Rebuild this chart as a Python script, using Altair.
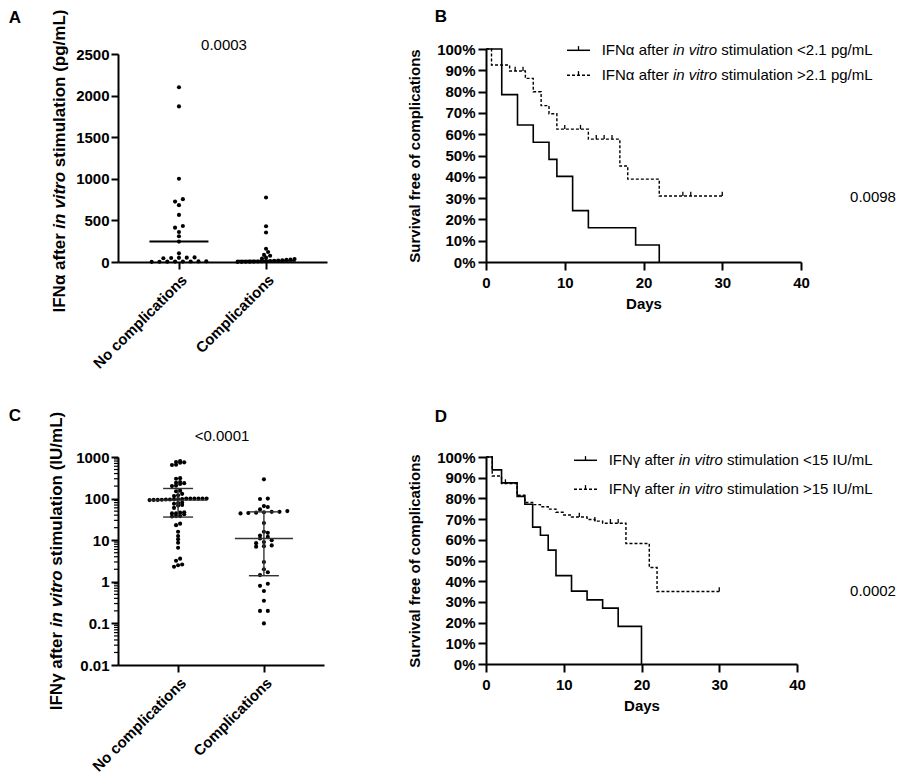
import math
import altair as alt
import pandas as pd

FONT = "Liberation Sans"

# ---------------- data ----------------
groups = ["No complications", "Complications"]

# Panel A: IFN-alpha (pg/mL)
ifna_no = [2100, 1870, 1000, 755, 726, 683, 566, 433, 413, 361, 309, 245, 104,
           55, 52, 50, 48, 45, 8, 7, 6, 5, 5, 4, 3, 2]
ifna_comp = [775, 430, 355, 160, 120, 85, 75, 52, 40, 35, 30, 25, 20, 18, 15,
             12, 10, 8, 6, 5, 4, 3, 2, 1]
ifna_median = [245, 15]
pval_a = "0.0003"

# Panel C: IFN-gamma (IU/mL)
ifng_no = [802, 760, 745, 731, 643, 650,
           310, 300, 250, 240, 235, 225, 205, 200,
           155, 150, 130, 120, 115,
           100, 100, 100, 100, 100, 100, 98, 97, 96, 95, 95, 94, 93, 93, 92,
           80, 78, 75, 70, 68, 60,
           47, 46, 44, 44, 42, 38, 38, 37,
           25, 23, 16, 12.6, 10.5, 8.7, 6.6,
           3.6, 3.2, 2.6, 2.5, 2.3]
ifng_comp = [290, 100, 98, 66, 63, 55, 50, 48, 48, 47, 46, 45, 44, 26, 16, 15,
             13, 12, 11, 10, 9, 8.5, 7.5, 7.2, 7, 3.0, 2.0, 1.7, 1.45, 0.9, 0.8,
             0.6, 0.35, 0.2, 0.2, 0.1]
ifng_median = [92, 11]
ifng_q1 = [36, 1.4]
ifng_q3 = [175, 48]
pval_c = "<0.0001"

# Panel B: survival, IFN-alpha
b_low_day = [0, 2, 4, 6, 8, 9, 11, 13, 19, 22]
b_low_surv = [100, 78.6, 64.3, 56.25, 48.2, 40.2, 24.1, 16.1, 8.0, 0]
b_high_day = [0, 0.7, 3, 5, 6, 7, 8, 9, 13, 17, 18, 22, 30]
b_high_surv = [100, 92.5, 89.7, 86.2, 79.9, 73.4, 69.6, 62.4, 57.7, 45.1, 38.9, 31.0, 31.0]
b_cens_day = [3.7, 4.7, 10, 12, 14, 15, 16, 25, 26, 30]
b_cens_surv = [89.7, 89.7, 62.4, 62.4, 57.7, 57.7, 57.7, 31.0, 31.0, 31.0]
b_leg = ["stimulation <2.1 pg/mL", "stimulation >2.1 pg/mL"]
pval_b = "0.0098"

# Panel D: survival, IFN-gamma
d_low_day = [0, 0.8, 2, 4, 5, 6, 7, 8, 9, 11, 13, 15, 17, 20]
d_low_surv = [100, 93.8, 87.5, 81.0, 77.2, 66.1, 62.2, 55.0, 42.7, 35.2, 31.0, 27.0, 18.2, 0]
d_high_day = [0, 0.8, 2, 4, 5, 6, 7, 8, 9, 10, 11, 13, 14, 15, 18, 21, 22, 30]
d_high_surv = [100, 90.8, 87.2, 81.5, 78.0, 77.0, 76.0, 74.8, 73.3, 72.0, 71.0, 69.8, 69.0,
               68.0, 58.2, 46.6, 35.0, 35.0]
d_cens_day = [2.5, 12, 14, 16, 17, 30]
d_cens_surv = [87.2, 71.0, 69.0, 68.0, 68.0, 35.0]
d_leg = ["stimulation <15 IU/mL", "stimulation >15 IU/mL"]
pval_d = "0.0002"

# ---------------- text width helpers (Arial / Liberation Sans metrics) ----------------
REG = {' ': 278, '%': 889, '(': 333, ')': 333, '.': 278, '/': 278, '<': 584, '>': 584,
       'A': 667, 'B': 667, 'C': 722, 'D': 722, 'E': 667, 'F': 611, 'G': 778, 'H': 722,
       'I': 278, 'J': 500, 'K': 667, 'L': 556, 'M': 833, 'N': 722, 'O': 778, 'P': 667,
       'R': 722, 'S': 667, 'T': 611, 'U': 722, 'V': 667,
       'a': 556, 'b': 556, 'c': 500, 'd': 556, 'e': 556, 'f': 278, 'g': 556, 'h': 556,
       'i': 222, 'j': 222, 'k': 500, 'l': 222, 'm': 833, 'n': 556, 'o': 556, 'p': 556,
       'q': 556, 'r': 333, 's': 500, 't': 278, 'u': 556, 'v': 500, 'w': 722, 'x': 500,
       'y': 500, 'z': 500, 'α': 578, 'γ': 500}
BOLD = {' ': 278, '%': 889, '(': 333, ')': 333, '.': 278, '/': 278, '<': 584, '>': 584,
        'A': 722, 'B': 722, 'C': 722, 'D': 722, 'E': 667, 'F': 611, 'G': 778, 'H': 722,
        'I': 278, 'J': 556, 'K': 722, 'L': 611, 'M': 833, 'N': 722, 'O': 778, 'P': 667,
        'R': 722, 'S': 667, 'T': 611, 'U': 722, 'V': 667,
        'a': 556, 'b': 611, 'c': 556, 'd': 611, 'e': 556, 'f': 333, 'g': 611, 'h': 611,
        'i': 278, 'j': 278, 'k': 556, 'l': 278, 'm': 889, 'n': 611, 'o': 611, 'p': 611,
        'q': 611, 'r': 389, 's': 556, 't': 333, 'u': 611, 'v': 556, 'w': 778, 'x': 556,
        'y': 556, 'z': 500, 'α': 600, 'γ': 556}


def tw(s, size, bold):
    tab = BOLD if bold else REG
    return sum(tab.get(c, 556) for c in s) * size / 1000.0


def text1(s, x, y, size=15, weight="normal", align="center", baseline="middle", angle=0, style="normal"):
    return alt.Chart(pd.DataFrame({"t": [s]})).mark_text(
        align=align, baseline=baseline, fontSize=size, fontWeight=weight, fontStyle=style,
        angle=angle, color="black", font=FONT
    ).encode(x=alt.value(x), y=alt.value(y), text="t:N")


def seg_texts(parts, x0, y0, size, bold, vertical=False, center=None):
    """parts: list of (text, italic). Horizontal from (x0,y0) or vertical centred at center."""
    widths = [tw(s, size, bold) for s, _ in parts]
    sp = tw(" ", size, bold)
    total = sum(widths) + sp * (len(parts) - 1)
    layers = []
    pos = 0.0
    for (s, it), w in zip(parts, widths):
        if vertical:
            xx, yy, ang = x0, center + total / 2 - pos, 270
        else:
            xx, yy, ang = x0 + pos, y0, 0
        layers.append(text1(s, xx, yy, size=size, weight="bold" if bold else "normal",
                            align="left", baseline="middle", angle=ang,
                            style="italic" if it else "normal"))
        pos += w + sp
    return layers


def swarm(vals, to_px, h=3.0, max_sp=7.8, width=57.0):
    idx = sorted(range(len(vals)), key=lambda i: to_px(vals[i]))
    rows = []
    for i in idx:
        p = to_px(vals[i])
        if rows and p - rows[-1][0] <= h:
            rows[-1][1].append(i)
        else:
            rows.append([p, [i]])
    nmax = max(len(r[1]) for r in rows)
    sp = min(max_sp, width / (nmax - 1)) if nmax > 1 else max_sp
    off = [0.0] * len(vals)
    for _, mem in rows:
        n = len(mem)
        for k, i in enumerate(mem):
            off[i] = (k - (n - 1) / 2.0) * sp
    return off


def swarm_df(vals_list, to_px, ppu):
    rec = []
    for g, vals in enumerate(vals_list, start=1):
        offs = swarm(vals, to_px)
        for v, o in zip(vals, offs):
            rec.append({"x": g + o / ppu, "y": v})
    return pd.DataFrame(rec)


label_expr = "datum.value == 1 ? '%s' : '%s'" % (groups[0], groups[1])
cat_axis = alt.Axis(values=[1, 2], labelExpr=label_expr, labelAngle=-45, tickSize=7,
                    labelPadding=3, title=None, labelOverlap=False, labelFlush=False)

# ---------------- Panel A ----------------
WA, HA = 209, 213
ppuA = WA / 2.4
xsA = alt.Scale(domain=[0.3, 2.7], nice=False, zero=False)
ysA = alt.Scale(domain=[0, 2500], range=[HA, 5], nice=False)
yaxA = alt.Axis(values=[0, 500, 1000, 1500, 2000, 2500], format="d", tickSize=7,
                labelPadding=2, title=None, labelOverlap=False)

dfA = swarm_df([ifna_no, ifna_comp], lambda v: v * 208 / 2500.0, ppuA)
ptsA = alt.Chart(dfA).mark_circle(size=17, color="black", opacity=1).encode(
    x=alt.X("x:Q", scale=xsA, axis=cat_axis), y=alt.Y("y:Q", scale=ysA, axis=yaxA))
hwA = 29.5 / ppuA
medA = pd.DataFrame({"x1": [g - hwA for g in (1, 2)], "x2": [g + hwA for g in (1, 2)],
                     "y": ifna_median})
medA_l = alt.Chart(medA).mark_rule(color="black", strokeWidth=2).encode(
    x=alt.X("x1:Q", scale=xsA, axis=cat_axis), x2="x2:Q",
    y=alt.Y("y:Q", scale=ysA, axis=yaxA))
titleA = seg_texts([("IFNα after", False), ("in vitro", True), ("stimulation (pg/mL)", False)],
                   -58, 0, 17, True, vertical=True, center=112)
panelA = alt.layer(ptsA, medA_l, text1(pval_a, 106, -3.7),
                   text1("A", -103, -31, size=17, weight="bold"),
                   *titleA).properties(width=WA, height=HA)

# ---------------- Panel C ----------------
WC, HC = 206, 208
ppuC = WC / 2.4
xsC = alt.Scale(domain=[0.3, 2.7], nice=False, zero=False)
ysC = alt.Scale(type="log", domain=[0.01, 1000], nice=False)
yaxC = alt.Axis(values=[0.01, 0.1, 1, 10, 100, 1000], format="~g", tickSize=7,
                labelPadding=2, title=None, labelOverlap=False)
dfC = swarm_df([ifng_no, ifng_comp], lambda v: (math.log10(v) + 2) * 41.6, ppuC)
ptsC = alt.Chart(dfC).mark_circle(size=17, color="black", opacity=1).encode(
    x=alt.X("x:Q", scale=xsC, axis=cat_axis), y=alt.Y("y:Q", scale=ysC, axis=yaxC))
hwC, cwC = 29 / ppuC, 15 / ppuC
medC = pd.DataFrame({"x1": [g - hwC for g in (1, 2)], "x2": [g + hwC for g in (1, 2)],
                     "y": ifng_median})
capC = pd.DataFrame({"x1": [g - cwC for g in (1, 2, 1, 2)], "x2": [g + cwC for g in (1, 2, 1, 2)],
                     "y": ifng_q1 + ifng_q3})
iqrC = pd.DataFrame({"x": [1, 2], "lo": ifng_q1, "hi": ifng_q3})
bar_col = "#333333"
medC_l = alt.Chart(medC).mark_rule(color=bar_col, strokeWidth=1.4).encode(
    x=alt.X("x1:Q", scale=xsC, axis=cat_axis), x2="x2:Q", y=alt.Y("y:Q", scale=ysC, axis=yaxC))
capC_l = alt.Chart(capC).mark_rule(color=bar_col, strokeWidth=1.4).encode(
    x=alt.X("x1:Q", scale=xsC, axis=cat_axis), x2="x2:Q", y=alt.Y("y:Q", scale=ysC, axis=yaxC))
iqrC_l = alt.Chart(iqrC).mark_rule(color=bar_col, strokeWidth=1.4).encode(
    x=alt.X("x:Q", scale=xsC, axis=cat_axis), y=alt.Y("lo:Q", scale=ysC, axis=yaxC), y2="hi:Q")
minor = pd.DataFrame({"v": [k * 10.0 ** e for e in range(-2, 3) for k in range(2, 10)]})
minorC = alt.Chart(minor).mark_rule(color="black", strokeWidth=1.2).encode(
    x=alt.value(-4), x2=alt.value(0), y=alt.Y("v:Q", scale=ysC, axis=yaxC))
titleC = seg_texts([("IFNγ after", False), ("in vitro", True), ("stimulation (IU/mL)", False)],
                   -61, 0, 17, True, vertical=True, center=HC / 2)
panelC = alt.layer(minorC, ptsC, medC_l, capC_l, iqrC_l, text1(pval_c, 104, -20.7),
                   text1("C", -103, -40.7, size=17, weight="bold"),
                   *titleC).properties(width=WC, height=HC)


# ---------------- KM panels ----------------
def km_panel(W, H, low_d, low_s, high_d, high_s, c_d, c_s, prefix, leg, pval, pv_y,
             letter, letter_y, leg_x, leg_y):
    xs = alt.Scale(domain=[0, 40], nice=False)
    ys = alt.Scale(domain=[0, 100], nice=False)
    xax = alt.Axis(values=[0, 10, 20, 30, 40], tickSize=8, labelPadding=5, title="Days",
                   titlePadding=6, labelFlush=False, labelOverlap=False)
    yax = alt.Axis(values=list(range(0, 101, 10)), labelExpr="datum.value + '%'", tickSize=8,
                   labelPadding=3, title="Survival free of complications", titlePadding=14,
                   labelOverlap=False)
    lo = alt.Chart(pd.DataFrame({"d": low_d, "s": low_s})).mark_line(
        interpolate="step-after", color="black", strokeWidth=1.6).encode(
        x=alt.X("d:Q", scale=xs, axis=xax), y=alt.Y("s:Q", scale=ys, axis=yax))
    hi = alt.Chart(pd.DataFrame({"d": high_d, "s": high_s})).mark_line(
        interpolate="step-after", color="black", strokeWidth=1.4, strokeDash=[3, 2]).encode(
        x=alt.X("d:Q", scale=xs, axis=xax), y=alt.Y("s:Q", scale=ys, axis=yax))
    cen = alt.Chart(pd.DataFrame({"d": c_d, "s": c_s})).mark_point(
        shape="M0,0L0,-1", size=70, filled=False, color="black", strokeWidth=1.3, opacity=1).encode(
        x=alt.X("d:Q", scale=xs, axis=xax), y=alt.Y("s:Q", scale=ys, axis=yax))
    layers = [lo, hi, cen]
    one = pd.DataFrame({"a": [0]})
    for k, dash in enumerate([None, [3, 2]]):
        yy = leg_y[k]
        kw = dict(color="black", strokeWidth=1.5)
        if dash:
            kw["strokeDash"] = dash
        layers.append(alt.Chart(one).mark_rule(**kw).encode(
            x=alt.value(leg_x), x2=alt.value(leg_x + 23), y=alt.value(yy)))
        layers.append(alt.Chart(one).mark_point(
            shape="M0,0L0,-1", size=70, filled=False, color="black", strokeWidth=1.3, opacity=1
        ).encode(x=alt.value(leg_x + 11.5), y=alt.value(yy)))
        layers += seg_texts([(prefix, False), ("in vitro", True), (leg[k], False)],
                            leg_x + 34.7, yy, 15, False)
    layers.append(text1(pval, 387, pv_y))
    layers.append(text1(letter, -45, letter_y, size=17, weight="bold"))
    return alt.layer(*layers).properties(width=W, height=H)


panelB = km_panel(315, 213, b_low_day, b_low_surv, b_high_day, b_high_surv, b_cens_day,
                  b_cens_surv, "IFNα after", b_leg, pval_b, 148.3, "B", -31.7, 81, [1.3, 26.3])
panelD = km_panel(311, 207, d_low_day, d_low_surv, d_high_day, d_high_surv, d_cens_day,
                  d_cens_surv, "IFNγ after", d_leg, pval_d, 134.3, "D", -39.7, 88, [3.3, 32.3])

chart = alt.concat(panelA, panelB, panelC, panelD, columns=2,
                   spacing={"row": 195, "column": 159}, bounds="flush").properties(
    padding={"left": 0, "top": 0, "right": 2, "bottom": 0}
).configure(font=FONT).configure_view(stroke=None).configure_axis(
    domainColor="black", domainWidth=2, tickColor="black", tickWidth=2, grid=False,
    labelColor="black", titleColor="black", labelFont=FONT, titleFont=FONT,
    labelFontSize=15, labelFontWeight="bold", titleFontSize=15, titleFontWeight="bold")

chart.save("out.html", embed_options={"renderer": "svg", "actions": False})
